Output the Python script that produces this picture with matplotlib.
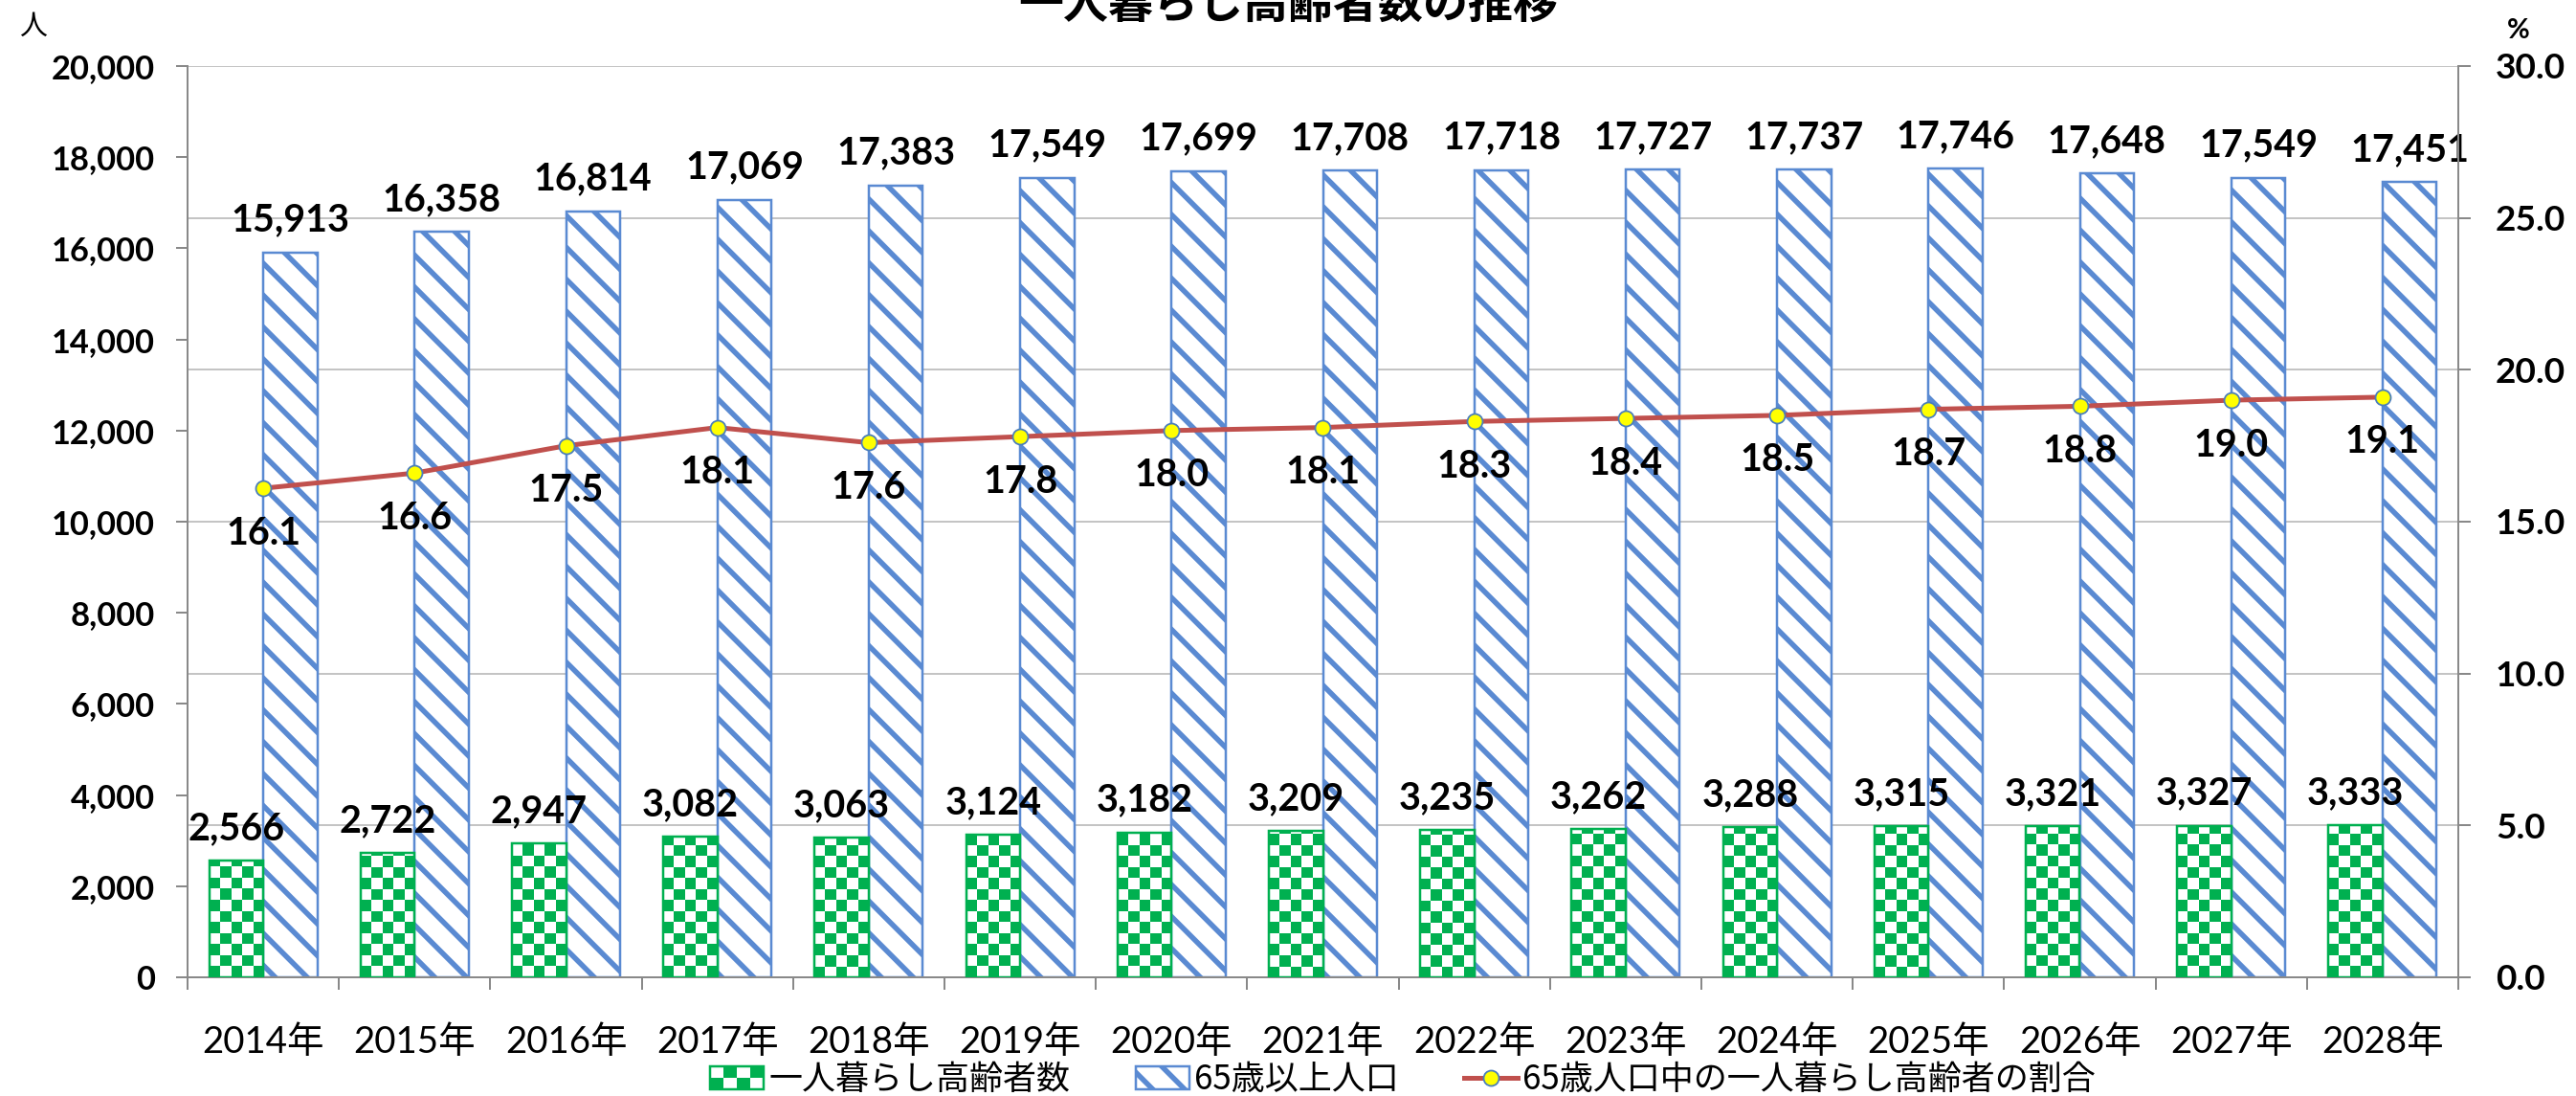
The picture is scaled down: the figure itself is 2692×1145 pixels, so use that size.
import matplotlib
matplotlib.use('Agg')
import matplotlib.pyplot as plt
import numpy as np
from matplotlib.patches import Rectangle
from matplotlib.legend_handler import HandlerBase
from matplotlib.lines import Line2D

# ---------------- data ----------------
years = ['2014年', '2015年', '2016年', '2017年', '2018年', '2019年', '2020年', '2021年',
         '2022年', '2023年', '2024年', '2025年', '2026年', '2027年', '2028年']
single_elderly = [2566, 2722, 2947, 3082, 3063, 3124, 3182, 3209, 3235, 3262, 3288, 3315, 3321, 3327, 3333]
pop65 = [15913, 16358, 16814, 17069, 17383, 17549, 17699, 17708, 17718, 17727, 17737, 17746, 17648, 17549, 17451]
ratio = [16.1, 16.6, 17.5, 18.1, 17.6, 17.8, 18.0, 18.1, 18.3, 18.4, 18.5, 18.7, 18.8, 19.0, 19.1]
left_ticks = list(range(0, 20001, 2000))
right_ticks = [0, 5, 10, 15, 20, 25, 30]
legend_labels = ['一人暮らし高齢者数', '65歳以上人口', '65歳人口中の一人暮らし高齢者の割合']
title = '一人暮らし高齢者数の推移'
left_unit = '人'
right_unit = '%'

# ---------------- style ----------------
DPI = 100
W, H = 2692, 1145
PX = 72 / DPI  # points per pixel

GREEN = '#00B050'
BLUE = '#5A8AD2'
RED = '#C0504D'
YELLOW = '#FFFF00'
MEC = '#4A7EBB'
GRAY = '#898989'
GRID = '#C4C4C4'

plt.rcParams['font.family'] = ['Lato', 'Noto Sans CJK JP', 'DejaVu Sans']
plt.rcParams['hatch.linewidth'] = 5.5 * PX
LAT = ['Lato', 'Noto Sans CJK JP', 'DejaVu Sans']
CJK = ['Noto Sans CJK JP', 'DejaVu Sans']

fig = plt.figure(figsize=(W / DPI, H / DPI), dpi=DPI)
L, R, T, B = 196, 2569, 69, 1021
ax1 = fig.add_axes([L / W, 1 - B / H, (R - L) / W, (B - T) / H])
ax2 = ax1.twinx()

n = len(years)
x = np.arange(n)
bw = 0.357
ymax_l = left_ticks[-1]
ymax_r = right_ticks[-1]

ax1.set_xlim(-0.5, n - 0.5)
ax1.set_ylim(0, ymax_l)
ax2.set_ylim(0, ymax_r)

# gridlines (belonging to the right axis), drawn behind bars
for v in right_ticks[1:]:
    ax1.axhline(v / ymax_r * ymax_l, color=GRID, lw=2 * PX, zorder=0.5)

g_bars = ax1.bar(x - bw / 2, single_elderly, bw, facecolor='none', edgecolor=GREEN,
                 lw=2.5 * PX, zorder=3)
b_bars = ax1.bar(x + bw / 2, pop65, bw, facecolor='white', edgecolor=BLUE, hatch='\\',
                 lw=2.5 * PX, zorder=2)

# checkerboard fill of green bars
px_per_y = ax1.bbox.height / ymax_l
px_per_x = ax1.bbox.width / n
sq = 11.5
sq_y = sq / px_per_y
g_rgb = np.array(matplotlib.colors.to_rgb(GREEN))
for bar in g_bars:
    x0, w, h = bar.get_x(), bar.get_width(), bar.get_height()
    nx = max(1, int(round(w * px_per_x / sq)))
    ny = int(np.ceil(h / sq_y))
    pat = np.add.outer(np.arange(ny), np.arange(nx)) % 2
    img = np.where(pat[..., None] == 0, g_rgb, np.ones(3))
    im = ax1.imshow(img, extent=(x0, x0 + w, 0, ny * sq_y), origin='lower',
                    interpolation='nearest', aspect='auto', zorder=2)
    im.set_clip_path(bar)

ax1.set_xlim(-0.5, n - 0.5)
ax1.set_ylim(0, ymax_l)

# line
ax2.plot(x, ratio, color=RED, lw=5 * PX, marker='o', ms=16 * PX, mfc=YELLOW, mec=MEC,
         mew=1.8 * PX, zorder=4)

# labels
LBL = 39.5 * PX
for bar, v in zip(g_bars, single_elderly):
    ax1.annotate(f'{v:,}', (bar.get_x() + bar.get_width() / 2, v), xytext=(0, 22 * PX),
                 textcoords='offset points', ha='center', va='baseline', fontsize=LBL,
                 fontweight='bold', family=LAT, zorder=5)
for bar, v in zip(b_bars, pop65):
    ax1.annotate(f'{v:,}', (bar.get_x() + bar.get_width() / 2, v), xytext=(0, 22 * PX),
                 textcoords='offset points', ha='center', va='baseline', fontsize=LBL,
                 fontweight='bold', family=LAT, zorder=5)
for xi, v in zip(x, ratio):
    ax2.annotate(f'{v:.1f}', (xi, v), xytext=(0, -47 * PX), textcoords='offset points',
                 ha='center', va='center', fontsize=LBL, fontweight='bold', family=LAT, zorder=5)

# axes / ticks
for s in ['top', 'right']:
    ax1.spines[s].set_visible(False)
for s in ['top', 'left', 'bottom']:
    ax2.spines[s].set_visible(False)
for sp in [ax1.spines['left'], ax1.spines['bottom'], ax2.spines['right']]:
    sp.set_color(GRAY)
    sp.set_linewidth(2 * PX)

ax1.set_yticks(left_ticks)
ax1.set_yticklabels([f'{v:,}' for v in left_ticks], fontsize=34.5 * PX, fontweight='bold', family=LAT)
ax1.tick_params(axis='y', direction='out', length=12 * PX, width=2 * PX, color=GRAY, pad=22 * PX)

ax2.set_yticks(right_ticks)
ax2.set_yticklabels([f'{v:.1f}' for v in right_ticks], fontsize=37 * PX, fontweight='bold', family=LAT)
ax2.tick_params(axis='y', direction='out', length=13 * PX, width=2 * PX, color=GRAY, pad=26 * PX)

ax1.set_xticks(x)
ax1.set_xticklabels(years, fontsize=38.5 * PX, family=LAT)
ax1.set_xticks(np.arange(n + 1) - 0.5, minor=True)
ax1.tick_params(axis='x', which='major', length=0, pad=50 * PX)
ax1.tick_params(axis='x', which='minor', direction='out', length=13 * PX, width=2 * PX, color=GRAY)

# units and title
fig.text(35 / W, 1 - 28 / H, left_unit, ha='center', va='center', fontsize=29 * PX, family=CJK)
fig.text(2632 / W, 1 - 32 / H, right_unit, ha='center', va='center', fontsize=29 * PX,
         fontweight='bold', family=LAT)
fig.text(0.5, 1 - 19 / H, title, ha='center', va='baseline', fontsize=47 * PX,
         fontweight='bold', family=CJK)


# legend
class CheckerHandler(HandlerBase):
    def create_artists(self, legend, orig_handle, xdescent, ydescent, width, height, fontsize, trans):
        arts = []
        nx, ny = 4, 2
        sw, sh = width / nx, height / ny
        for i in range(nx):
            for j in range(ny):
                arts.append(Rectangle((-xdescent + i * sw, -ydescent + j * sh), sw, sh,
                                      facecolor=GREEN if (i + j) % 2 == 0 else 'white',
                                      edgecolor='none', transform=trans))
        arts.append(Rectangle((-xdescent, -ydescent), width, height, facecolor='none',
                              edgecolor=GREEN, lw=2.5 * PX, transform=trans))
        return arts


h_green = Rectangle((0, 0), 1, 1, facecolor='none', edgecolor=GREEN)
h_blue = Rectangle((0, 0), 1, 1, facecolor='white', edgecolor=BLUE, hatch='\\', lw=2.5 * PX)
h_line = Line2D([], [], color=RED, lw=5 * PX, marker='o', ms=16 * PX, mfc=YELLOW, mec=MEC, mew=1.8 * PX)
fig.legend([h_green, h_blue, h_line], legend_labels, loc='center',
           bbox_to_anchor=(1466 / W, 1 - 1128 / H), ncol=3, frameon=False,
           prop={'family': CJK, 'size': 35 * PX}, handlelength=1.6, handleheight=0.7,
           handletextpad=0.15, columnspacing=1.95, borderpad=0,
           handler_map={h_green: CheckerHandler()})

fig.savefig('out.png', dpi=DPI)
